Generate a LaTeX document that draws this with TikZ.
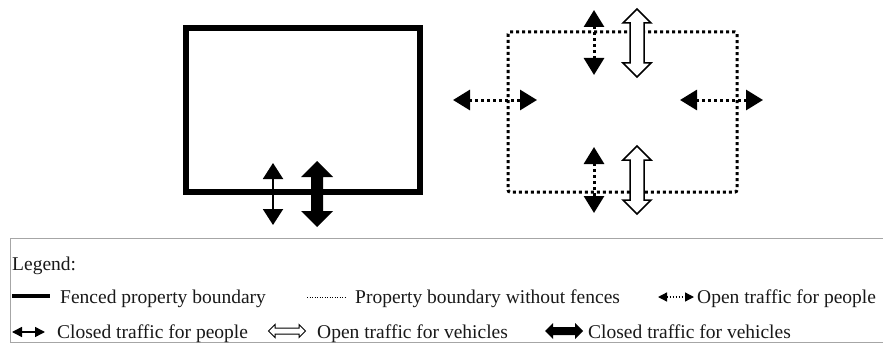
\documentclass[tikz,border=0pt]{standalone}
\usepackage{fontspec}
\setmainfont{Liberation Serif}
\usetikzlibrary{arrows.meta}

\tikzset{
  pics/veh arrow/.style n args={3}{code={
    \path[pic actions] (0,{-#1/2}) -- ({#2/2},{-#1/2+#2/2}) -- ({#3/2},{-#1/2+#2/2})
      -- ({#3/2},{#1/2-#2/2}) -- ({#2/2},{#1/2-#2/2}) -- (0,{#1/2})
      -- ({-#2/2},{#1/2-#2/2}) -- ({-#3/2},{#1/2-#2/2}) -- ({-#3/2},{-#1/2+#2/2})
      -- ({-#2/2},{-#1/2+#2/2}) -- cycle;
  }}
}

\begin{document}
\begin{tikzpicture}[x=1pt,y=-1pt,
        fenced/.style={line width=6pt},
        nofence/.style={line width=3pt,dash pattern=on 3pt off 3pt},
        ppl closed/.style={line width=2pt,
          {Triangle[width=20pt,length=16pt]}-{Triangle[width=20pt,length=16pt]}},
        ppl open/.style={line width=3pt,dash pattern=on 3pt off 3pt,
          {Triangle[width=20pt,length=17pt]}-{Triangle[width=20pt,length=17pt]}},
        veh closed/.style={fill=black},
        veh open/.style={draw,fill=white,line width=1.5pt},
        lbl/.style={anchor=base west,inner sep=0pt,text=black!90,
          font=\fontsize{19.5}{20}\selectfont}]

  \useasboundingbox (0,0) rectangle (883,345);

  \draw[fenced] (186,28) rectangle (420,192);
  \coordinate (cp1) at (273,163);
  \coordinate (cp2) at (273,225);
  \draw[ppl closed] (cp1) -- (cp2);
  \pic[veh closed] (vc) at (317,194) {veh arrow={66}{32}{12}};

  \draw[nofence,rounded corners=2pt] (508,32) rectangle (737,192);
  \coordinate (op1) at (594,10);
  \coordinate (op2) at (594,75);
  \coordinate (op3) at (453,100);
  \coordinate (op4) at (537,100);
  \coordinate (op5) at (680,100);
  \coordinate (op6) at (763,100);
  \coordinate (op7) at (594,147);
  \coordinate (op8) at (594,213);
  \draw[ppl open] (op1) -- (op2);
  \draw[ppl open] (op3) -- (op4);
  \draw[ppl open] (op5) -- (op6);
  \draw[ppl open] (op7) -- (op8);
  \pic[veh open] (vo1) at (637,43) {veh arrow={68}{28}{14}};
  \pic[veh open] (vo2) at (637,180) {veh arrow={68}{28}{14}};

  \draw[gray!70,line width=1pt] (884,238) -- (10,238) -- (10,342) -- (884,342);
  \node[lbl] (legend) at (12,270) {Legend:};

  \coordinate (f1) at (12,296);
  \coordinate (f2) at (50,296);
  \draw[line width=4pt] (f1) -- (f2);
  \node[lbl] (fenced text) at (60,303) {Fenced property boundary};
  \coordinate (n1) at (307,297);
  \coordinate (n2) at (345,297);
  \draw[line width=1pt,dash pattern=on 1pt off 1.5pt] (n1) -- (n2);
  \node[lbl] (nofence text) at (355,303) {Property boundary without fences};
  \coordinate (l1) at (658,297);
  \coordinate (l2) at (694,297);
  \draw[line width=1.3pt,dash pattern=on 1.5pt off 1.5pt,
    {Triangle[width=9pt,length=9pt]}-{Triangle[width=9pt,length=9pt]}] (l1) -- (l2);
  \node[lbl] (ppl open text) at (697,303) {Open traffic for people};

  \coordinate (l3) at (12,332);
  \coordinate (l4) at (45,332);
  \draw[line width=1.5pt,
    {Triangle[width=10pt,length=10pt]}-{Triangle[width=10pt,length=10pt]}] (l3) -- (l4);
  \node[lbl] (ppl closed text) at (57,338) {Closed traffic for people};
  \pic[veh open,line width=1pt,rotate=90] (lvo) at (287,331) {veh arrow={37}{13}{6}};
  \node[lbl] (veh open text) at (317,338) {Open traffic for vehicles};
  \pic[veh closed,rotate=90] (lvc) at (564,331) {veh arrow={38}{16}{8}};
  \node[lbl] (veh closed text) at (588,338) {Closed traffic for vehicles};

\end{tikzpicture}
\end{document}
